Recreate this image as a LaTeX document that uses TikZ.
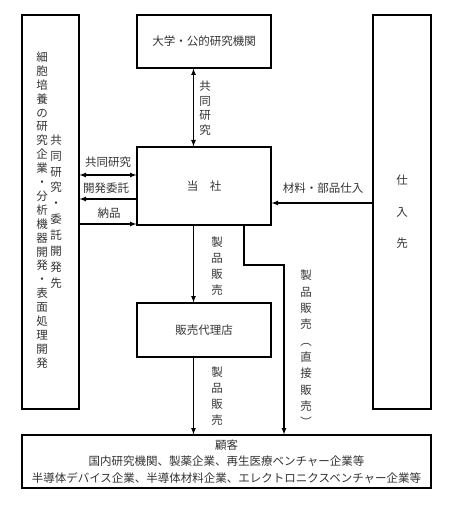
\documentclass[tikz,border=0pt]{standalone}
\usepackage{fontspec}
\setmainfont{Noto Sans CJK JP}
\usetikzlibrary{arrows}

\tikzset{
  box/.style={draw, line width=1.2pt, inner sep=0pt, text=black!80,
    font=\fontsize{11.5}{16.5}\selectfont, align=center},
  lbl/.style={inner sep=0pt, text=black!80, font=\fontsize{11.5}{14}\selectfont},
  tate/.style={inner sep=0pt, text=black!80, align=center,
    font=\fontsize{11.5}{#1}\selectfont},
  tate/.default=16,
  flow/.style={line width=1.2pt},
}

\begin{document}
\begin{tikzpicture}[x=1pt,y=-1pt]
 \useasboundingbox (0,0) rectangle (454,505);
 % boxes
 \node[box, minimum width=57, minimum height=394] (lab) at (50.5,212) {};
 \node[box, minimum width=134, minimum height=53] (univ) at (204,41.5) {大学・公的研究機関};
 \node[box, minimum width=134, minimum height=78] (firm) at (204,186) {当　社};
 \node[box, minimum width=134, minimum height=54] (agent) at (204,330) {販売代理店};
 \node[box, minimum width=58, minimum height=394, tate=31.5] (supp) at (402,212) {仕\\入\\先};
 \node[box, minimum width=409, minimum height=53] (cust) at (226.5,461.5)
   {顧客\\国内研究機関、製薬企業、再生医療ベンチャー企業等\\半導体デバイス企業、半導体材料企業、エレクトロニクスベンチャー企業等};
 % left box text
 \node[tate=13.9] (labA) at (42,210) {細\\胞\\培\\養\\の\\研\\究\\企\\業\\・\\分\\析\\機\\器\\開\\発\\・\\表\\面\\処\\理\\開\\発};
 \node[tate=15.9] (labB) at (56,211.5) {共\\同\\研\\究\\・\\委\\託\\開\\発\\先};
%
 \coordinate (ax) at (193.5,0);
 \coordinate (dx) at (244,0);
 \coordinate (kink) at (284,265);
 \coordinate (y1) at (0,175);
 \coordinate (y2) at (0,199);
 \coordinate (y3) at (0,224);
 \coordinate (y4) at (0,203);
 % connectors
 \draw[flow, latex-latex] (univ.south -| ax) -- (firm.north -| ax);
 \draw[flow, latex-latex] (lab.east |- y1) -- (firm.west |- y1);
 \draw[flow, -latex] (firm.west |- y2) -- (lab.east |- y2);
 \draw[flow, -latex] (lab.east |- y3) -- (firm.west |- y3);
 \draw[flow, -latex] (supp.west |- y4) -- (firm.east |- y4);
 \draw[flow, -latex] (firm.south -| ax) -- (agent.north -| ax);
 \draw[flow, -latex] (agent.south -| ax) -- (cust.north -| ax);
 \draw[flow, -latex] (firm.south -| dx) |- (kink) -- (cust.north -| kink);
 % labels
 \node[tate=14.5] (t1) at (205,108) {共\\同\\研\\究};
 \node[lbl] (t2) at (108,162) {共同研究};
 \node[lbl] (t3) at (106,188) {開発委託};
 \node[lbl] (t4) at (109,213) {納品};
 \node[lbl] (t5) at (323,188) {材料・部品仕入};
 \node[tate] (t6) at (217,266) {製\\品\\販\\売};
 \node[tate] (t7) at (217,396) {製\\品\\販\\売};
 \node[tate=16.3] (t8) at (306,348.5) {製\\品\\販\\売\\︵\\直\\接\\販\\売\\︶};
\end{tikzpicture}
\end{document}
